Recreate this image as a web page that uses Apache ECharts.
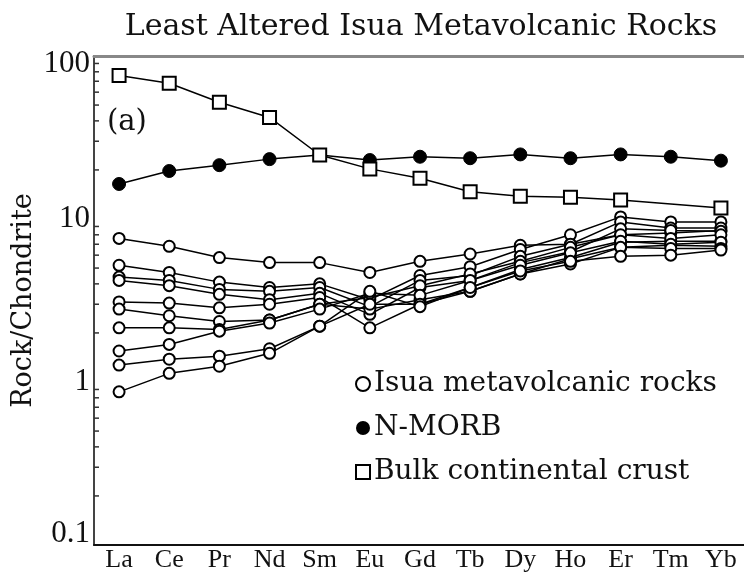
<!DOCTYPE html>
<html><head><meta charset="utf-8">
<script src="https://cdn.jsdelivr.net/npm/echarts@6/dist/echarts.min.js"></script>
<style>html,body{margin:0;padding:0;background:#fff}#c{width:744px;height:581px}</style>
</head><body><div id="c"></div>
<script>
var elements = ['La','Ce','Pr','Nd','Sm','Eu','Gd','Tb','Dy','Ho','Er','Tm','Yb'];
var crust = [76, 68, 52, 42, 24.7, 20.3, 17.8, 14.7, 13.8, 13.6, 13.1, null, 11.7];
var nmorb = [16.4, 19.7, 21.4, 23.3, 24.7, 23.0, 24.1, 23.6, 24.9, 23.6, 24.9, 24.1, 22.8];
var isua1 = [7.6, 6.8, 5.8, 5.4, 5.4, 4.7, 5.5, 6.1, 6.9, 7.0, 8.0, 8.2, 8.5];
var isua2 = [5.2, 4.7, 4.1, 3.8, 4.0, 3.2, 4.5, 5.1, 6.5, 8.0, 10.3, 9.6, 9.6];
var isua3 = [4.4, 4.2, 3.7, 3.6, 3.8, 2.9, 4.2, 4.5, 5.9, 7.0, 9.6, 8.8, 8.8];
var isua4 = [4.2, 3.9, 3.45, 3.2, 3.5, 2.6, 3.8, 4.2, 5.4, 6.3, 8.7, 8.5, 8.4];
var isua5 = [3.1, 3.05, 2.85, 3.0, 3.3, 2.15, 3.0, 3.8, 4.9, 5.8, 7.2, 7.3, 7.3];
var isua6 = [2.8, 2.55, 2.35, 2.4, 3.0, 2.8, 3.2, 3.6, 4.6, 5.7, 6.7, 6.9, 6.8];
var isua7 = [2.15, 2.15, 2.1, 2.4, 3.0, 3.3, 3.9, 4.6, 5.5, 6.7, 8.0, 7.6, 8.0];
var isua8 = [1.55, 1.7, 2.05, 2.3, 2.8, 3.5, 3.4, 4.2, 5.2, 6.2, 7.3, 7.0, 7.2];
var isua9 = [1.27, 1.38, 1.44, 1.6, 2.2, 3.0, 3.0, 3.6, 4.6, 5.3, 6.7, 6.6, 6.6];
var isua10 = [0.87, 1.13, 1.25, 1.5, 2.2, 3.6, 2.9, 3.8, 4.8, 5.5, 5.9, 6.0, 6.45];
var isuaAll = [isua1, isua2, isua3, isua4, isua5, isua6, isua7, isua8, isua9, isua10];
var yMajorTicks = [0.1, 1, 10, 100];
var yMinorTicks = [0.2,0.3,0.4,0.5,0.6,0.7,0.8,0.9,2,3,4,5,6,7,8,9,20,30,40,50,60,70,80,90];

var FONT = 'DejaVu Serif';
var TFONT = 'Liberation Serif';
var chart = echarts.init(document.getElementById('c'));
var series = [];
isuaAll.forEach(function(d){
  series.push({
    name: 'Isua metavolcanic rocks', type: 'line', data: d, z: 3,
    symbol: 'circle', symbolSize: 11,
    itemStyle: {color: '#fff', borderColor: '#000', borderWidth: 2},
    lineStyle: {color: '#000', width: 1.5}
  });
});
series.push({
  name: 'N-MORB', type: 'line', data: nmorb, z: 4,
  symbol: 'circle', symbolSize: 13,
  itemStyle: {color: '#000', borderColor: '#000', borderWidth: 1},
  lineStyle: {color: '#000', width: 1.5}
});
series.push({
  name: 'Bulk continental crust', type: 'line', data: crust, z: 5, connectNulls: true,
  symbol: 'rect', symbolSize: 13,
  itemStyle: {color: '#fff', borderColor: '#000', borderWidth: 2},
  lineStyle: {color: '#000', width: 1.5}
});
series.push({
  type: 'custom', name: 'minor', silent: true, z: 2,
  data: yMinorTicks.map(function(v){ return [0, v]; }),
  renderItem: function(params, api){
    var p = api.coord([api.value(0), api.value(1)]);
    var x0 = params.coordSys.x;
    return {type: 'line', shape: {x1: x0, y1: p[1], x2: x0 + 5, y2: p[1]},
            style: {stroke: '#333', lineWidth: 1.5}};
  }
});

chart.setOption({
  animation: false,
  backgroundColor: '#fff',
  title: {
    text: 'Least Altered Isua Metavolcanic Rocks', left: 416, top: 7, textAlign: 'center',
    textStyle: {fontFamily: FONT, fontSize: 30, fontWeight: 'normal', color: '#111'}
  },
  grid: {left: 94, top: 56, width: 652, height: 489, containLabel: false, outerBoundsMode: 'none'},
  legend: {
    orient: 'vertical', left: 350, top: 365, itemGap: 16, itemWidth: 14, itemHeight: 14,
    textStyle: {fontFamily: FONT, fontSize: 28, color: '#111', padding: [0,0,0,-1]},
    data: [
      {name: 'Isua metavolcanic rocks', icon: 'circle', itemStyle: {color: '#fff', borderColor: '#000', borderWidth: 2}},
      {name: 'N-MORB', icon: 'circle', itemStyle: {color: '#000', borderColor: '#000', borderWidth: 0}},
      {name: 'Bulk continental crust', icon: 'rect', itemStyle: {color: '#fff', borderColor: '#000', borderWidth: 2}}
    ]
  },
  graphic: [{type: 'text', left: 107, top: 108, style: {text: '(a)', font: '29px "DejaVu Serif"', fill: '#111'}}],
  xAxis: [{
    type: 'category', data: elements, boundaryGap: true, position: 'bottom',
    axisLine: {lineStyle: {color: '#111', width: 2}},
    axisTick: {inside: true, alignWithLabel: true, length: 6, lineStyle: {color: '#111', width: 1.5}},
    axisLabel: {fontFamily: TFONT, fontSize: 26, color: '#111', margin: 2, interval: 0}
  }, {
    type: 'category', data: elements, position: 'top',
    axisLine: {lineStyle: {color: '#888', width: 3}},
    axisTick: {show: false}, axisLabel: {show: false}
  }],
  yAxis: {
    type: 'log', logBase: 10, min: 0.1, max: 100,
    name: 'Rock/Chondrite', nameLocation: 'middle', nameGap: 57, nameRotate: 90, nameMoveOverlap: false,
    nameTextStyle: {fontFamily: FONT, fontSize: 27, color: '#111'},
    axisLine: {show: true, lineStyle: {color: '#444', width: 2}},
    axisTick: {inside: true, length: 9, lineStyle: {color: '#222', width: 1.5}},
    splitLine: {show: false},
    axisLabel: {
      fontFamily: TFONT, fontSize: 31, color: '#111', margin: 4,
      formatter: function(v){
        var n = +v;
        if (Math.abs(n - 100) < 1e-6) return '{top|100}';
        if (Math.abs(n - 0.1) < 1e-9) return '{bot|0.1}';
        return yMajorTicks.indexOf(n) >= 0 ? String(n) : '';
      },
      rich: {
        top: {fontFamily: TFONT, fontSize: 31, color: '#111', padding: [16, 0, 0, 0]},
        bot: {fontFamily: TFONT, fontSize: 31, color: '#111', padding: [0, 0, 22, 0]}
      }
    }
  },
  series: series
});
</script></body></html>
